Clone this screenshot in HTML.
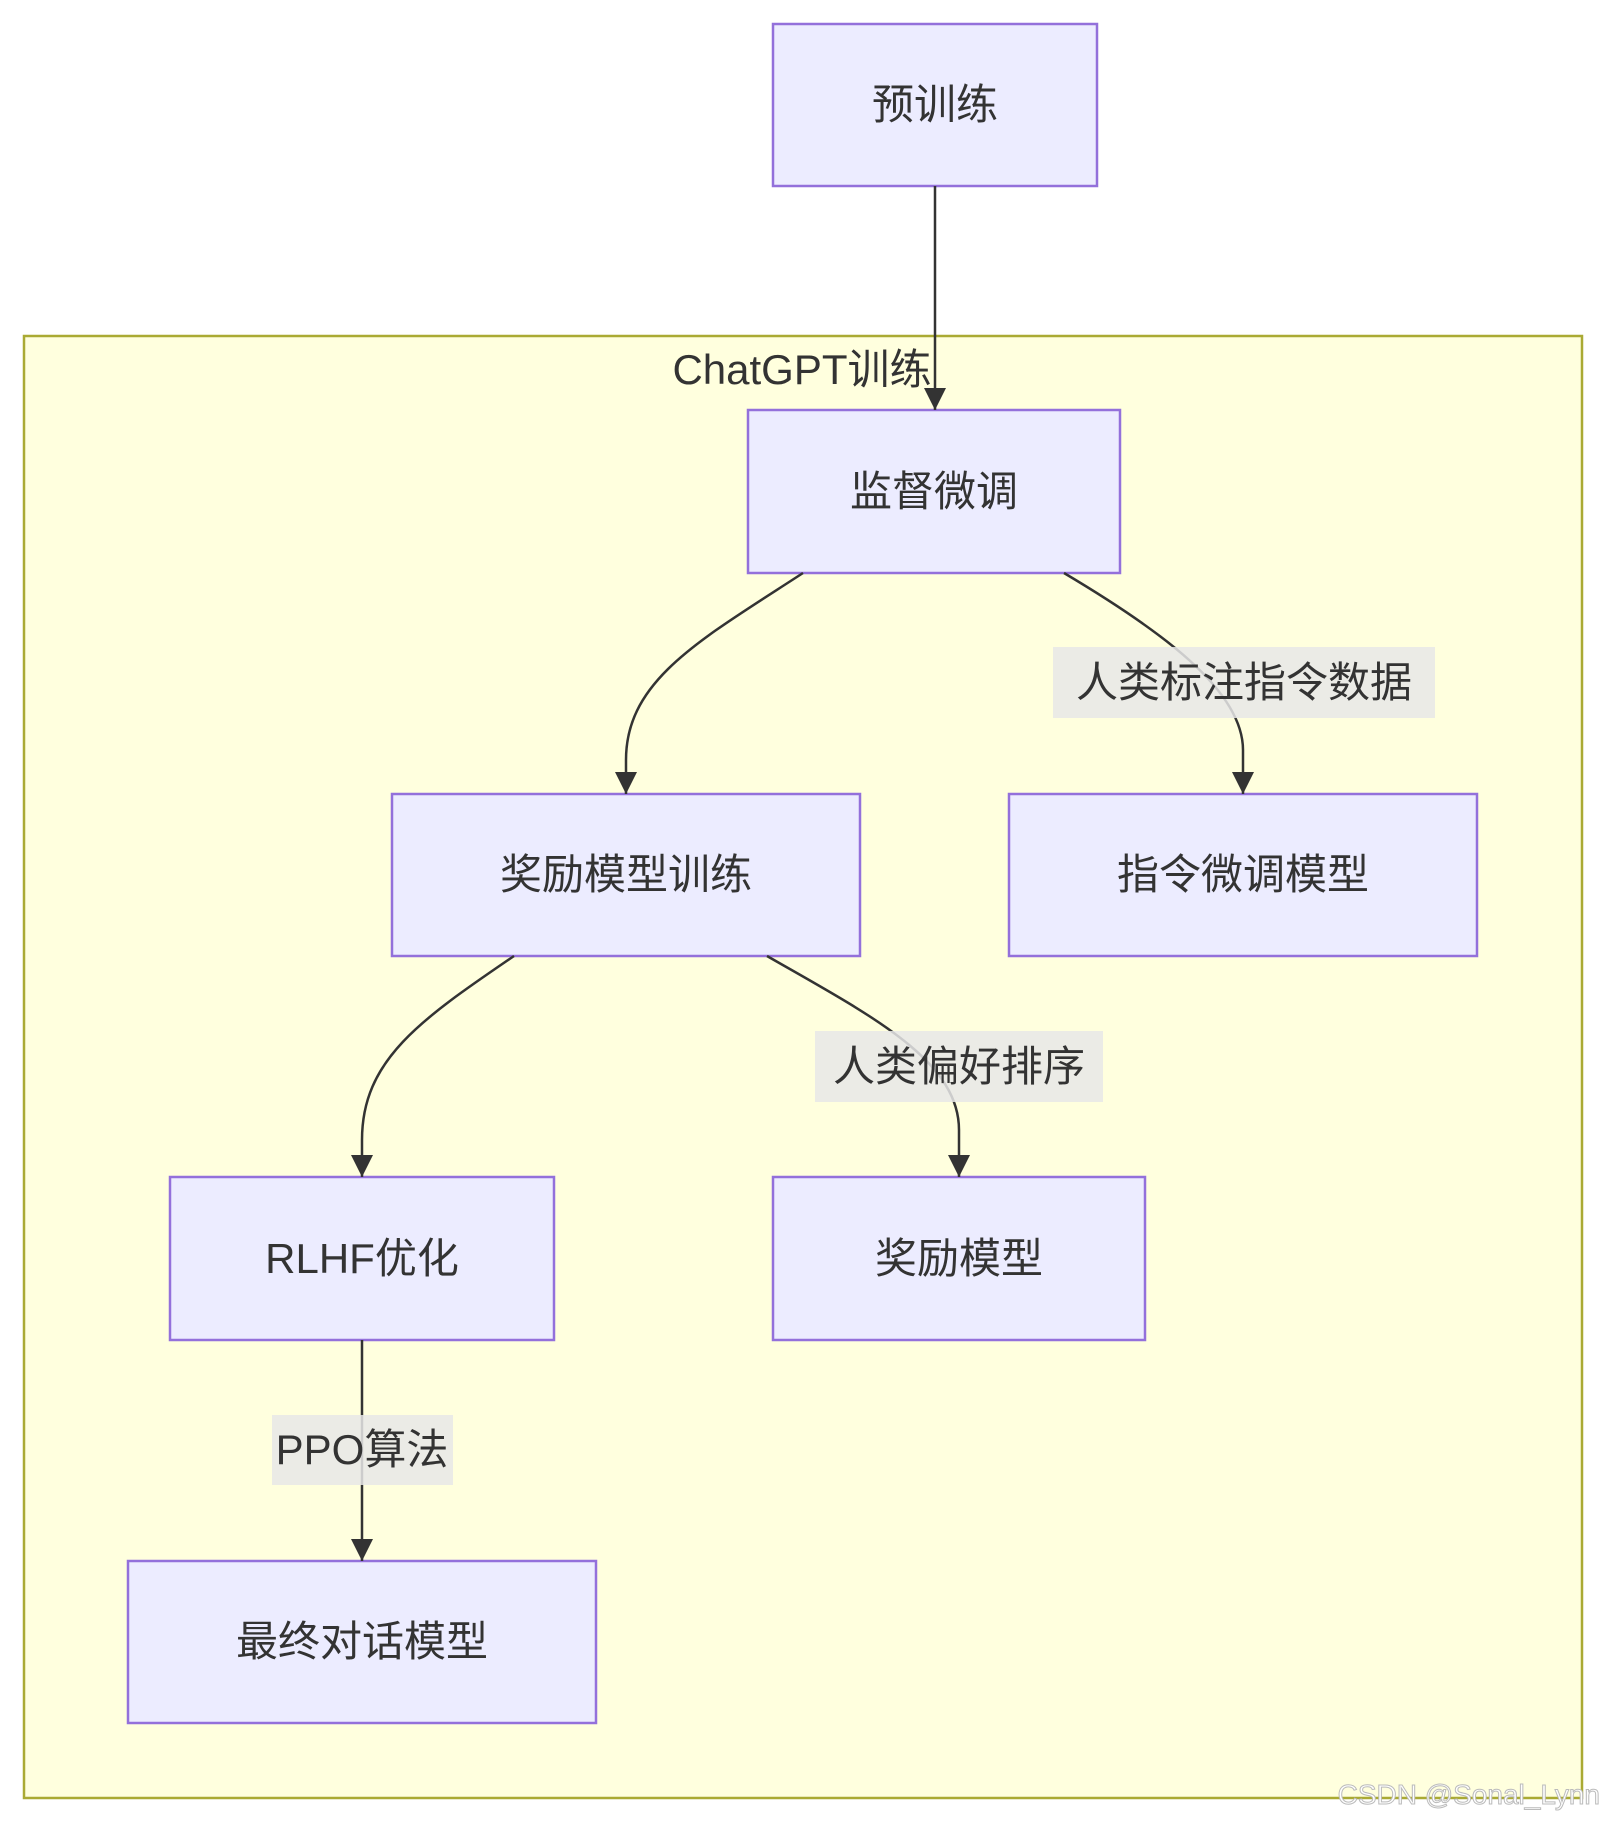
<!DOCTYPE html>
<html><head><meta charset="utf-8"><style>
html,body{margin:0;padding:0;background:#fff;}
svg text{font-family:"Liberation Sans","Noto Sans CJK SC",sans-serif;fill:#333;}
</style></head><body>
<svg width="1608" height="1824" viewBox="0 0 1608 1824" xmlns="http://www.w3.org/2000/svg">
<defs><marker id="a" viewBox="0 0 10 10" refX="9" refY="5" markerWidth="8" markerHeight="8" markerUnits="userSpaceOnUse" orient="auto"><path d="M0,0L10,5L0,10z" fill="#333"/></marker>
<marker id="b" viewBox="0 0 10 10" refX="10" refY="5" markerWidth="24" markerHeight="22" markerUnits="userSpaceOnUse" orient="auto"><path d="M0,0L10,5L0,10z" fill="#333"/></marker></defs>
<rect x="24" y="336" width="1558" height="1462" fill="#ffffde" stroke="#aaaa33" stroke-width="2.5"/>
<text x="802" y="384" font-size="42" text-anchor="middle">ChatGPT训练</text>
<g fill="#ececff" stroke="#9370db" stroke-width="2.5">
<rect x="773" y="24" width="324" height="162"/>
<rect x="748" y="410" width="372" height="163"/>
<rect x="392" y="794" width="468" height="162"/>
<rect x="1009" y="794" width="468" height="162"/>
<rect x="170" y="1177" width="384" height="163"/>
<rect x="773" y="1177" width="372" height="163"/>
<rect x="128" y="1561" width="468" height="162"/>
</g>
<g fill="none" stroke="#333" stroke-width="2.5" marker-end="url(#b)">
<path d="M935,186 L935,410"/>
<path d="M803,573 C700,640 626,680 626,760 L626,794"/>
<path d="M1064,573 C1160,630 1243,690 1243,750 L1243,794"/>
<path d="M514,956 C420,1020 362,1060 362,1140 L362,1177"/>
<path d="M767,956 C870,1015 959,1060 959,1130 L959,1177"/>
<path d="M362,1340 L362,1561"/>
</g>
<g fill="#e8e8e8" fill-opacity="0.85">
<rect x="1053" y="647" width="382" height="71"/>
<rect x="815" y="1031" width="288" height="71"/>
<rect x="272" y="1415" width="181" height="70"/>
</g>
<g font-size="42" text-anchor="middle">
<text x="935" y="119">预训练</text>
<text x="934" y="506">监督微调</text>
<text x="626" y="889">奖励模型训练</text>
<text x="1243" y="889">指令微调模型</text>
<text x="362" y="1273">RLHF优化</text>
<text x="959" y="1273">奖励模型</text>
<text x="362" y="1656">最终对话模型</text>
<text x="1244" y="697">人类标注指令数据</text>
<text x="959" y="1081">人类偏好排序</text>
<text x="362" y="1464">PPO算法</text>
</g>
<text x="1600" y="1804" font-size="28" text-anchor="end" style="fill:#fff;stroke:#bbb;stroke-width:1">CSDN @Sonal_Lynn</text>
</svg>
</body></html>
